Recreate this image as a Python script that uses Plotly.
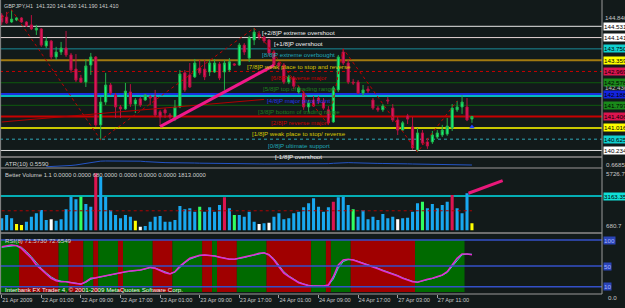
import plotly.graph_objects as go

W, H = 625, 308
ML, MR, MT, MB = 0, 23, 0, 14
PW, PH = W - ML - MR, H - MT - MB

FONT = "Liberation Sans, Arial, sans-serif"
BG = "#121a1a"
TXT = "#d0d0d0"
FS = 6.2

# ---------------- data ----------------
bar_index = list(range(96))
time_tick_bars = [0, 8, 16, 24, 32, 40, 48, 56, 64, 72, 80, 88]
time_labels = ["21 Apr 2009", "22 Apr 01:00", "22 Apr 09:00", "22 Apr 17:00", "23 Apr 01:00",
               "23 Apr 09:00", "23 Apr 17:00", "24 Apr 01:00", "24 Apr 09:00", "24 Apr 17:00",
               "27 Apr 03:00", "27 Apr 11:00"]

open_p = [144.92, 144.85, 144.68, 144.75, 144.82, 144.68, 144.58, 144.40, 144.44, 143.85,
          144.02, 143.47, 143.64, 143.78, 143.54, 143.05, 142.74, 142.60, 143.19, 143.47,
          141.12, 141.91, 142.50, 142.15, 141.74, 141.67, 142.26, 141.84, 142.02, 141.98,
          142.09, 142.09, 141.57, 141.64, 141.46, 141.36, 141.74, 142.92, 142.85, 142.78,
          143.09, 143.05, 142.95, 142.95, 143.23, 142.95, 143.02, 143.23, 143.19, 143.88,
          143.43, 144.06, 144.26, 144.16, 144.06, 143.64, 143.26, 143.19, 142.60, 142.74,
          142.26, 142.22, 141.74, 141.98, 142.05, 141.91, 141.64, 141.22, 142.33, 143.64,
          143.26, 142.60, 142.60, 142.22, 142.36, 141.98, 141.70, 141.64, 141.98, 141.70,
          141.29, 140.94, 141.43, 141.05, 140.25, 140.84, 140.53, 140.53, 140.70, 140.77,
          140.80, 141.01, 141.64, 141.74, 141.74, 141.32]
high_p = [144.99, 145.03, 145.10, 144.85, 144.85, 144.71, 144.92, 144.58, 144.47, 144.16,
          144.06, 143.82, 143.99, 144.37, 143.61, 143.57, 142.85, 143.40, 143.61, 143.50,
          142.09, 142.92, 142.57, 142.22, 141.81, 142.57, 142.53, 142.05, 142.09, 142.19,
          142.15, 142.33, 141.64, 141.70, 141.53, 141.98, 143.02, 143.02, 143.26, 143.40,
          143.37, 143.37, 143.37, 143.40, 143.30, 143.37, 143.43, 143.26, 143.95, 143.95,
          144.20, 144.47, 144.37, 144.20, 144.09, 143.71, 143.30, 143.26, 142.85, 142.81,
          142.46, 142.29, 141.98, 142.12, 142.12, 142.05, 141.77, 142.46, 143.54, 143.75,
          143.37, 142.71, 142.67, 142.50, 142.46, 142.05, 141.77, 141.84, 142.09, 141.84,
          141.39, 141.25, 141.50, 141.39, 141.01, 140.94, 140.67, 140.91, 140.94, 141.12,
          141.36, 141.84, 141.95, 142.15, 142.05, 141.43]
low_p = [144.58, 144.61, 144.65, 144.71, 144.65, 144.51, 144.40, 144.23, 143.82, 143.78,
         143.37, 143.37, 143.54, 143.47, 142.92, 142.60, 142.57, 142.43, 142.85, 141.05,
         140.60, 141.81, 142.15, 141.36, 141.36, 141.64, 141.74, 141.53, 141.74, 141.95,
         141.81, 141.39, 141.08, 141.36, 141.32, 141.25, 141.70, 142.26, 142.40, 142.74,
         142.85, 142.67, 142.81, 142.92, 142.67, 142.33, 142.95, 143.16, 143.16, 143.54,
         143.30, 143.88, 144.06, 143.95, 143.50, 143.12, 143.02, 142.53, 142.53, 142.36,
         142.19, 141.64, 141.57, 141.74, 141.84, 141.64, 141.12, 141.19, 142.26, 143.19,
         142.53, 142.50, 142.19, 142.12, 142.22, 141.64, 141.57, 141.57, 141.84, 141.22,
         140.77, 140.91, 141.15, 140.25, 140.18, 140.42, 140.29, 140.46, 140.63, 140.70,
         140.74, 140.91, 141.57, 141.50, 141.25, 141.19]
close_p = [144.68, 144.65, 144.78, 144.82, 144.68, 144.54, 144.44, 144.47, 143.88, 144.02,
           143.47, 143.64, 143.78, 143.54, 143.02, 142.67, 142.60, 143.16, 143.47, 141.12,
           141.91, 142.50, 142.22, 141.74, 141.67, 142.29, 141.84, 141.98, 141.81, 142.15,
           142.05, 141.46, 141.39, 141.53, 141.39, 141.74, 142.88, 142.33, 142.43, 143.26,
           142.92, 142.78, 143.26, 143.26, 142.74, 143.26, 143.30, 143.19, 143.88, 143.64,
           144.13, 144.33, 144.16, 144.02, 143.61, 143.19, 143.16, 142.60, 142.78, 142.46,
           142.40, 141.74, 141.88, 141.77, 141.95, 141.70, 141.19, 142.40, 143.47, 143.26,
           142.60, 142.57, 142.22, 142.33, 142.29, 141.70, 141.64, 141.77, 141.95, 141.29,
           140.94, 141.19, 141.32, 140.32, 140.84, 140.49, 140.39, 140.77, 140.84, 140.94,
           141.08, 141.70, 141.74, 141.91, 141.29, 141.41]

# Murrey math levels
murrey_levels = [144.531, 144.141, 143.750, 143.359, 142.969, 142.578,
                 142.188, 141.797, 141.406, 141.016, 140.625, 140.234]
murrey_texts = ["[+2/8]P extreme overshoot", "[+1/8]P overshoot", "[8/8]P extreme overbought",
                "[7/8]P weak place to stop and reverse", "[6/8]P reverse major",
                "[5/8]P top of trading range", "[4/8]P major pivot point",
                "[3/8]P bottom of trading range", "[2/8]P reverse major",
                "[1/8]P weak place to stop/ reverse", "[0/8]P ultimate support", "[-1/8]P overshoot"]
murrey_text_colors = ["#f0f0f0", "#f0f0f0", "#20a8b8", "#d8c800", "#c80000", "#1e7e1e",
                      "#2436e8", "#1e7e1e", "#c80000", "#d8c800", "#20a8b8", "#f0f0f0"]
murrey_line_colors = ["#e8e8e8", "#e6d6d6", "#1a8c9a", "#a27a10", "#c80000", "#0e5a0e",
                      "#1a30e0", "#0e5a0e", "#c80000", "#c8c800", "#30a8b8", "#e0e0e0"]
murrey_line_widths = [1, 1, 1, 2, 1, 1, 2, 1, 2, 2, 1, 1]
murrey_line_dash = ["solid", "solid", "solid", "solid", "dot", "solid",
                    "solid", "solid", "solid", "solid", "dot", "solid"]
murrey_box_colors = ["#ffffff", "#ffffff", "#10d0d0", "#ffff00", "#dc1450", "#1a8a1a",
                     "#1424e0", "#1a8a1a", "#dc1450", "#ffff00", "#10d0d0", "#ffffff"]
pivot_cyan_level = 142.115
price_axis_labels = [144.840, 142.430, 140.020]

zigzag_bars = [0, 2, 20, 51, 66, 69, 84, 92]
zigzag_prices = [144.82, 145.10, 140.60, 144.47, 141.12, 143.75, 140.18, 141.95]
trend_bars = [32, 55]
trend_prices = [141.06, 143.18]
regline_bars = [0, 53]
regline_prices = [141.22, 142.00]
arrow_bars = [95]
arrow_prices = [141.05]

# ATR(10)
atr_start = 9
atr_vals = [0.532, 0.534, 0.537, 0.540, 0.546, 0.552, 0.560, 0.572, 0.585, 0.605, 0.615,
            0.620, 0.622, 0.623, 0.622, 0.621, 0.620, 0.620, 0.621, 0.619, 0.612,
            0.606, 0.601, 0.598, 0.596, 0.595, 0.596, 0.594, 0.592, 0.591, 0.590,
            0.588, 0.586, 0.585, 0.584, 0.582, 0.580, 0.579, 0.578, 0.578, 0.577,
            0.578, 0.578, 0.577, 0.576, 0.576, 0.575, 0.575, 0.576, 0.575, 0.574,
            0.574, 0.575, 0.574, 0.575, 0.576, 0.577, 0.580, 0.586, 0.593, 0.596,
            0.596, 0.594, 0.590, 0.587, 0.585, 0.584, 0.584, 0.583, 0.584, 0.585,
            0.583, 0.580, 0.577, 0.575, 0.573, 0.571, 0.569, 0.567, 0.566, 0.565,
            0.564, 0.563, 0.562, 0.561, 0.560, 0.559]
atr_max = 0.6685

# Better Volume
volume = [1123, 1428, 1123, 604, 513, 818, 1275, 1581, 1886, 970,
          1032, 909, 1032, 1947, 3107, 2863, 3107, 2435, 2191, 5243,
          4935, 3107, 1886, 1428, 1123, 1428, 1275, 909, 360, 421,
          818, 1275, 1337, 818, 818, 970, 2252, 1947, 2039, 1733,
          2191, 1733, 2130, 1733, 2344, 3046, 2039, 1428, 1428, 1275,
          1733, 818, 604, 665, 726, 1275, 1581, 1032, 1123, 1581,
          1733, 2130, 2497, 2954, 2191, 1733, 2130, 2649, 3046, 3107,
          2344, 1947, 1275, 1886, 1032, 1275, 970, 1520, 1123, 1275,
          1032, 1123, 1184, 1733, 2497, 2649, 2039, 2435, 2039, 2344,
          2649, 3259, 2039, 1581, 3412, 680]
volume_codes = ("BBBYYBBBBB" "WBBBBBGBBR" "BBBBBBBYWB" "BBBBBBBBBB" "GBBBBRBGBB"
                "BBWBWBBBBB" "BBBBBBBRBB" "BGBBBBBBBB" "WBBBBGBBBB" "BRBBBY")
volume_palette = {"B": "#18a8f0", "Y": "#ffff00", "W": "#ffffff", "G": "#30ff60", "R": "#dc1450"}
volume_max = 5726.7
volume_level = 3163.35
volume_avg = 1813.0
vol_trend_bars = [94.3, 101.2]
vol_trend_vals = [3415, 4568]

# RSI(8)
rsi = [87, 88.5, 90.4, 89, 84, 74.4, 64.8, 52, 42.3, 34.6,
       26.3, 21.7, 19.8, 19.8, 17.9, 16.7, 14.8, 19.8, 26.3, 27.5,
       29.4, 32.7, 34.6, 36, 37.1, 39, 40.4, 41, 42.3, 44.9,
       47.4, 45.6, 41, 37.1, 34.6, 39, 50, 58.3, 64.8, 67.9,
       70.5, 71.2, 70.5, 69.3, 66.7, 64.8, 62.9, 62.9, 64.8, 66.7,
       69.3, 71.8, 74.4, 75.6, 71.2, 61.6, 48.7, 36, 29.4, 23,
       17.9, 14.8, 12.1, 11.5, 11.5, 11.5, 13.4, 29.4, 52, 61.6,
       62.9, 61.6, 58.3, 55.2, 52, 48.7, 44.9, 41, 37.9, 34.6,
       30.8, 26.3, 23, 19.8, 18.6, 21.7, 24.4, 26.3, 29.4, 32.7,
       39, 52, 64.8, 73.1, 73.1, 71.57]
rsi_signal = [86, 87.5, 89, 89.5, 86, 78, 68, 56, 45.5, 37,
              29, 23.5, 20.8, 19.9, 18.5, 17.2, 15.5, 18.5, 24.5, 27,
              29, 32, 34, 35.6, 36.8, 38.6, 40, 40.8, 42, 44.3,
              46.8, 46, 42, 38, 35.3, 38, 47, 56, 63, 67,
              70, 71, 70.8, 69.6, 67.3, 65.3, 63.4, 63, 64.4, 66.2,
              68.7, 71.2, 73.8, 75.2, 72.3, 64, 51.5, 39, 31, 24.5,
              19, 15.6, 12.8, 11.8, 11.5, 11.5, 12.8, 25, 46, 58.5,
              62.5, 62, 59, 56, 52.8, 49.5, 45.8, 42, 38.8, 35.4,
              31.8, 27.3, 24, 20.6, 19, 21, 23.8, 25.8, 28.7, 32,
              37.5, 49, 61.5, 71.5, 73, 72.65]
rsi_levels = [100, 50, 10]
rsi_zone = ("GGGG" "RRRRRRRR" "GG" "RRR" "GG" "R" "GGGG" "R" "GGGGGG" "RRRR" "GGGGGG"
            "RR" "G" "RRRR" "GGGGGG" "RRRRRRRRR" "GGG" "R" "GGGG" "RRRRRRRRRRRRR" "GGGGGGGGGG")
zone_palette = {"G": "#006a00", "R": "#a00000"}
zone_top = 100

# ---------------- layout helpers ----------------
def py(ypx):
    return 1 - ypx / PH

def px(xpx):
    return xpx / PW

fig = go.Figure()
shapes = []
annotations = []

# RSI zones as runs of rectangles in data space
start = 0
for k in range(1, len(rsi_zone) + 1):
    if k == len(rsi_zone) or rsi_zone[k] != rsi_zone[start]:
        shapes.append(dict(type="rect", xref="x", yref="y4", x0=bar_index[start] - 0.5,
                           x1=bar_index[k - 1] + 0.5, y0=0, y1=zone_top,
                           fillcolor=zone_palette[rsi_zone[start]], line=dict(width=0), layer="below"))
        start = k

# RSI lines
fig.add_trace(go.Scatter(x=bar_index, y=rsi_signal, mode="lines", line=dict(color="#40c8f0", width=1),
                         xaxis="x", yaxis="y4", showlegend=False))
fig.add_trace(go.Scatter(x=bar_index, y=rsi, mode="lines", line=dict(color="#e030d0", width=1.6),
                         xaxis="x", yaxis="y4", showlegend=False))

# Volume
fig.add_trace(go.Bar(x=bar_index, y=volume, width=0.62,
                     marker=dict(color=[volume_palette[c] for c in volume_codes], line=dict(width=0)),
                     xaxis="x", yaxis="y3", showlegend=False))
fig.add_trace(go.Scatter(x=[bar_index[0], bar_index[-1]], y=[volume_avg, volume_avg], mode="lines",
                         line=dict(color="#b00000", width=1, dash="dot"),
                         xaxis="x", yaxis="y3", showlegend=False))
fig.add_trace(go.Scatter(x=vol_trend_bars, y=vol_trend_vals, mode="lines",
                         line=dict(color="#e8187a", width=3), xaxis="x", yaxis="y3", showlegend=False))

# ATR
fig.add_trace(go.Scatter(x=bar_index[atr_start:], y=atr_vals, mode="lines",
                         line=dict(color="#2454c4", width=1), xaxis="x", yaxis="y2", showlegend=False))

# Main chart overlays
fig.add_trace(go.Scatter(x=zigzag_bars, y=zigzag_prices, mode="lines",
                         line=dict(color="#c00000", width=1, dash="dot"), xaxis="x", yaxis="y", showlegend=False))
fig.add_trace(go.Scatter(x=regline_bars, y=regline_prices, mode="lines",
                         line=dict(color="#b00000", width=1), xaxis="x", yaxis="y", showlegend=False))

fig.add_trace(go.Candlestick(x=bar_index, open=open_p, high=high_p, low=low_p, close=close_p,
                             increasing=dict(line=dict(color="#22b04a", width=1), fillcolor="#10ff80"),
                             decreasing=dict(line=dict(color="#b81040", width=1), fillcolor="#e01862"),
                             whiskerwidth=0, xaxis="x", yaxis="y", showlegend=False))

fig.add_trace(go.Scatter(x=trend_bars, y=trend_prices, mode="lines",
                         line=dict(color="#f0188a", width=3), xaxis="x", yaxis="y", showlegend=False))
fig.add_trace(go.Scatter(x=arrow_bars, y=arrow_prices, mode="markers",
                         marker=dict(symbol="triangle-up", size=5, color="#2040ff"),
                         xaxis="x", yaxis="y", showlegend=False))

# plain price-scale labels (drawn first so the level boxes sit on top)
for p in price_axis_labels:
    annotations.append(dict(x=1, y=p, xref="paper", yref="y", text="%.3f" % p, showarrow=False,
                            xanchor="left", yanchor="middle", xshift=1,
                            font=dict(family=FONT, size=FS, color="#c8c8c8")))

# Murrey lines + labels
for lvl, txt, tc, lc, lw, ld, bc in zip(murrey_levels, murrey_texts, murrey_text_colors,
                                       murrey_line_colors, murrey_line_widths, murrey_line_dash,
                                       murrey_box_colors):
    shapes.append(dict(type="line", xref="paper", yref="y", x0=0, x1=1, y0=lvl, y1=lvl,
                       line=dict(color=lc, width=lw, dash=ld), layer="below"))
    annotations.append(dict(x=60, y=lvl, xref="x", yref="y", text=txt, showarrow=False,
                            xanchor="center", yanchor="top", yshift=-0.5,
                            font=dict(family=FONT, size=FS, color=tc)))
    annotations.append(dict(x=1, y=lvl, xref="paper", yref="y", text="%.3f" % lvl, showarrow=False,
                            xanchor="left", yanchor="middle", xshift=1, bgcolor=bc, borderpad=0,
                            font=dict(family=FONT, size=FS, color="#000000")))

shapes.append(dict(type="line", xref="paper", yref="y", x0=0, x1=1, y0=pivot_cyan_level, y1=pivot_cyan_level,
                   line=dict(color="#00f0f0", width=1.5), layer="below"))

# volume level line
shapes.append(dict(type="line", xref="paper", yref="y3", x0=0, x1=1, y0=volume_level, y1=volume_level,
                   line=dict(color="#00e0e8", width=1.5), layer="below"))
annotations.append(dict(x=1, y=volume_level, xref="paper", yref="y3", text="%.2f" % volume_level,
                        showarrow=False, xanchor="left", yanchor="middle", xshift=1, bgcolor="#10e0d8",
                        borderpad=0, font=dict(family=FONT, size=FS, color="#000000")))
annotations.append(dict(x=1, y=volume_max, xref="paper", yref="y3", text="%.1f" % volume_max,
                        showarrow=False, xanchor="left", yanchor="top", xshift=2,
                        font=dict(family=FONT, size=FS, color="#c8c8c8")))
annotations.append(dict(x=1, y=0, xref="paper", yref="y3", text="680.7",
                        showarrow=False, xanchor="left", yanchor="bottom", xshift=2,
                        font=dict(family=FONT, size=FS, color="#c8c8c8")))
annotations.append(dict(x=1, y=atr_max, xref="paper", yref="y2", text="%.4f" % atr_max,
                        showarrow=False, xanchor="left", yanchor="top", xshift=2, yshift=-1,
                        font=dict(family=FONT, size=FS, color="#c8c8c8")))

# RSI levels
for lv in rsi_levels:
    shapes.append(dict(type="line", xref="paper", yref="y4", x0=0, x1=1, y0=lv, y1=lv,
                       line=dict(color="#3450c8", width=1.5)))
    annotations.append(dict(x=1, y=lv, xref="paper", yref="y4", text=str(lv), showarrow=False,
                            xanchor="left", yanchor="middle", xshift=1, bgcolor="#2a44b8", borderpad=0,
                            font=dict(family=FONT, size=FS, color="#a8b4ff")))
annotations.append(dict(x=1, y=0, xref="paper", yref="y4", text="0.0", showarrow=False,
                        xanchor="left", yanchor="top", xshift=4,
                        font=dict(family=FONT, size=FS, color="#c8c8c8")))

# panel separators and borders
for y0, y1 in [(156, 158), (167.3, 168.8), (232, 234)]:
    shapes.append(dict(type="rect", xref="paper", yref="paper", x0=0, x1=1, y0=py(y1), y1=py(y0),
                       fillcolor="#6e6e6e", line=dict(width=0)))
shapes.append(dict(type="line", xref="paper", yref="paper", x0=1, x1=1, y0=0, y1=1,
                   line=dict(color="#9a9a9a", width=1)))
shapes.append(dict(type="line", xref="paper", yref="paper", x0=0.001, x1=0.001, y0=0, y1=1,
                   line=dict(color="#8a8a8a", width=1)))
shapes.append(dict(type="line", xref="paper", yref="paper", x0=0, x1=1, y0=0, y1=0,
                   line=dict(color="#9a9a9a", width=1)))

# panel titles
def label(x, y, text, size=FS, color=TXT):
    annotations.append(dict(x=px(x), y=py(y), xref="paper", yref="paper", text=text, showarrow=False,
                            xanchor="left", yanchor="middle", font=dict(family=FONT, size=size, color=color)))

label(2, 6, "GBPJPY,H1  141.320 141.430 141.190 141.410", size=5.4)
label(3, 163.5, "ATR(10) 0.5590")
label(3, 175, "Better Volume 1.1 0.0000 0.0000 680.0000 0.0000 0.0000 0.0000 1813.0000", size=5.9)
label(3, 240, "RSI(8) 71.5730 72.6549")
label(3, 289, "Interbank FX Trader 4, © 2001-2009 MetaQuotes Software Corp.", color="#f0f0f0")

axis_common = dict(showgrid=False, zeroline=False, showticklabels=False, fixedrange=True)
fig.update_layout(
    width=W, height=H, margin=dict(l=ML, r=MR, t=MT, b=MB),
    paper_bgcolor=BG, plot_bgcolor=BG, barmode="overlay", boxgap=0.38,
    showlegend=False, shapes=shapes, annotations=annotations,
    xaxis=dict(range=[-0.343, 121.27], showgrid=False, zeroline=False, anchor="y4",
               tickvals=time_tick_bars, ticktext=time_labels, ticks="outside", ticklen=3,
               tickcolor="#a0a0a0", tickangle=0, ticklabelposition="outside right",
               tickfont=dict(family=FONT, size=5.6, color="#c8c8c8"),
               rangeslider=dict(visible=False)),
    yaxis=dict(domain=[py(156), 1], range=[140.043, 145.441], **axis_common),
    yaxis2=dict(domain=[py(167), py(158)], range=[0.528, atr_max], **axis_common),
    yaxis3=dict(domain=[py(230.6), py(168)], range=[0, volume_max], **axis_common),
    yaxis4=dict(domain=[0, py(234)], range=[-3.9, 111.6], **axis_common),
)

fig.write_html("out.html")
